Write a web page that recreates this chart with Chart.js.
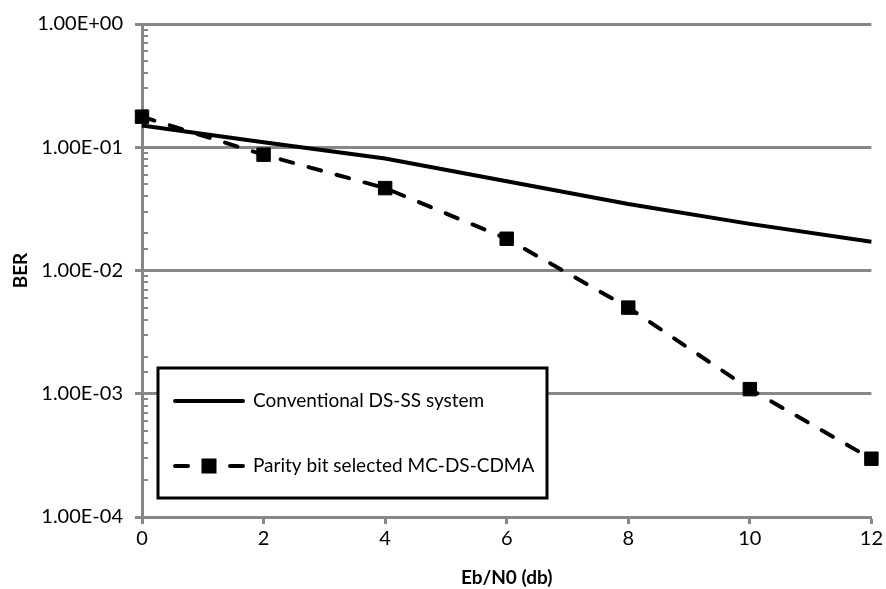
<!DOCTYPE html>
<html>
<head>
<meta charset="utf-8">
<title>BER vs Eb/N0</title>
<script src="https://cdn.jsdelivr.net/npm/chart.js@4/dist/chart.umd.min.js"></script>
<style>
  html, body { margin: 0; padding: 0; background: #fff; }
  #wrap { width: 886px; height: 589px; }
</style>
</head>
<body>
<div id="wrap"><canvas id="berChart" width="886" height="589"></canvas></div>
<script>
// Eb/N0 (db) sample points
const ebN0 = [0, 2, 4, 6, 8, 10, 12];

// measured bit error rates
const conventionalBer = [0.150, 0.110, 0.081, 0.053, 0.0346, 0.0239, 0.0171];
const parityBer = [0.177, 0.087, 0.0466, 0.0181, 0.0050, 0.00109, 0.000297];

const seriesNames = ['Conventional DS-SS system', 'Parity bit selected MC-DS-CDMA'];

const FONT = 'Lato, "Open Sans", sans-serif';
const AXIS_GREY = '#878787';

const isDecade = (v) => {
  const e = Math.log10(v);
  return Math.abs(e - Math.round(e)) < 1e-9;
};

const sciLabel = (v) => {
  const e = Math.round(Math.log10(v));
  const sign = e < 0 ? '-' : '+';
  return '1.00E' + sign + String(Math.abs(e)).padStart(2, '0');
};

const toPoints = (ys) => ebN0.map((x, i) => ({ x: x, y: ys[i] }));

// small inward ticks for the 2..9 steps of each decade
const minorTicks = {
  id: 'minorTicks',
  beforeDatasetsDraw(chart) {
    const { ctx, chartArea } = chart;
    const y = chart.scales.y;
    ctx.save();
    ctx.strokeStyle = AXIS_GREY;
    ctx.lineWidth = 2;
    y.ticks.forEach(t => {
      if (isDecade(t.value)) return;
      const py = Math.round(y.getPixelForValue(t.value));
      ctx.beginPath();
      ctx.moveTo(chartArea.left, py);
      ctx.lineTo(chartArea.left + 6, py);
      ctx.stroke();
    });
    ctx.restore();
  }
};

// boxed legend sitting inside the plot, lower left
const boxLegend = {
  id: 'boxLegend',
  afterDraw(chart) {
    const { ctx, chartArea } = chart;
    const bx = chartArea.left + 16, by = chartArea.top + 344, bw = 389, bh = 130;
    ctx.save();
    ctx.fillStyle = '#fff';
    ctx.fillRect(bx, by, bw, bh);
    ctx.strokeStyle = '#000';
    ctx.lineWidth = 3;
    ctx.strokeRect(bx, by, bw, bh);

    const sx = bx + 17, ex = bx + 85;
    const rows = [by + 33, by + 98];
    ctx.lineCap = 'round';
    ctx.font = '19px ' + FONT;
    ctx.textBaseline = 'middle';
    ctx.fillStyle = '#000';

    chart.data.datasets.forEach((ds, i) => {
      const ry = rows[i];
      ctx.strokeStyle = ds.borderColor;
      ctx.lineWidth = ds.borderWidth;
      ctx.beginPath();
      if (ds.borderDash && ds.borderDash.length) {
        ctx.moveTo(sx, ry); ctx.lineTo(sx + 13, ry);
        ctx.moveTo(ex - 13, ry); ctx.lineTo(ex, ry);
      } else {
        ctx.moveTo(sx, ry); ctx.lineTo(ex, ry);
      }
      ctx.stroke();
      if (ds.pointRadius > 0) {
        const s = 15;
        ctx.fillStyle = ds.pointBackgroundColor;
        ctx.fillRect((sx + ex) / 2 - s / 2, ry - s / 2, s, s);
      }
      ctx.fillStyle = '#000';
      ctx.fillText(ds.label, bx + 95, ry);
    });
    ctx.restore();
  }
};

new Chart(document.getElementById('berChart'), {
  type: 'line',
  data: {
    datasets: [{
      label: seriesNames[0],
      data: toPoints(conventionalBer),
      borderColor: '#000',
      borderWidth: 4,
      pointRadius: 0,
      tension: 0,
      clip: false
    }, {
      label: seriesNames[1],
      data: toPoints(parityBer),
      borderColor: '#000',
      borderWidth: 4,
      borderDash: [13, 16],
      borderCapStyle: 'round',
      pointStyle: 'rect',
      pointRadius: 9.5,
      pointBackgroundColor: '#000',
      pointBorderColor: '#000',
      pointBorderWidth: 1,
      tension: 0,
      clip: false
    }]
  },
  options: {
    responsive: false,
    animation: false,
    layout: { padding: { left: 0, right: 14, top: 21, bottom: 0 } },
    plugins: {
      legend: { display: false },
      tooltip: { enabled: false }
    },
    scales: {
      x: {
        type: 'linear',
        min: 0,
        max: 12,
        afterFit: (scale) => { scale.height = 72; },
        ticks: {
          stepSize: 2,
          padding: 3,
          color: '#000',
          font: { family: FONT, size: 20 }
        },
        grid: {
          drawOnChartArea: false,
          drawTicks: true,
          tickLength: 7,
          tickColor: AXIS_GREY,
          tickWidth: 3
        },
        border: { color: AXIS_GREY, width: 3 },
        title: {
          display: true,
          text: 'Eb/N0 (db)',
          color: '#000',
          font: { family: FONT, size: 19, weight: 'bold' },
          padding: { top: 0, bottom: 0 }
        }
      },
      y: {
        type: 'logarithmic',
        min: 1e-4,
        max: 1,
        afterFit: (scale) => { scale.width = 142; },
        ticks: {
          autoSkip: false,
          padding: 12,
          color: '#000',
          font: { family: FONT, size: 20 },
          callback: (v) => isDecade(v) ? sciLabel(v) : ''
        },
        grid: {
          lineWidth: 3,
          tickLength: 7,
          tickWidth: 3,
          color: (c) => (c.tick && isDecade(c.tick.value)) ? AXIS_GREY : 'rgba(0,0,0,0)',
          tickColor: (c) => (c.tick && isDecade(c.tick.value)) ? AXIS_GREY : 'rgba(0,0,0,0)'
        },
        border: { color: AXIS_GREY, width: 3 },
        title: {
          display: true,
          text: 'BER',
          color: '#000',
          font: { family: FONT, size: 19, weight: 'bold' },
          padding: { top: 9, bottom: 0 }
        }
      }
    }
  },
  plugins: [minorTicks, boxLegend]
});
</script>
</body>
</html>
